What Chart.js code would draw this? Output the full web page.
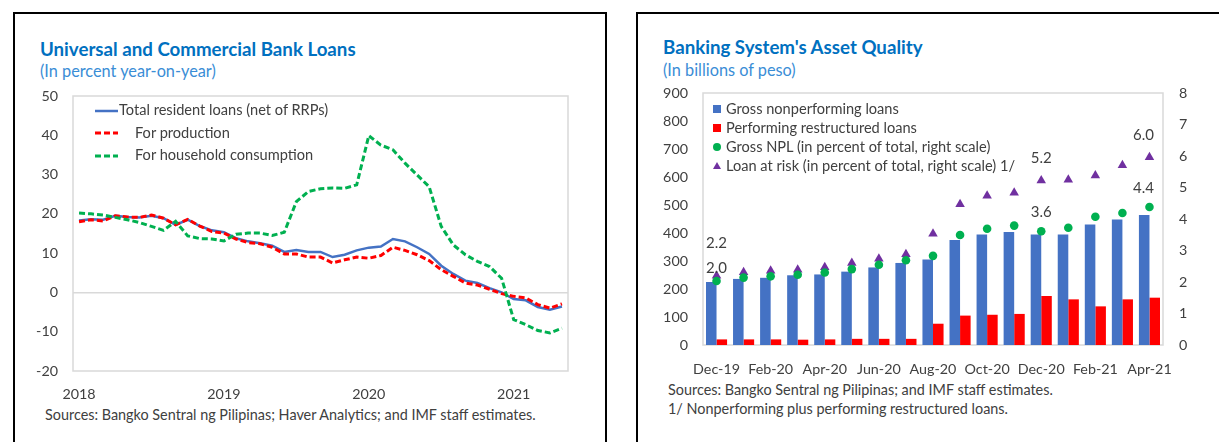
<!DOCTYPE html>
<html>
<head>
<meta charset="utf-8">
<script src="https://cdn.jsdelivr.net/npm/chart.js@4.4.1/dist/chart.umd.min.js"></script>
<style>
  body { margin: 0; width: 1219px; height: 442px; overflow: hidden; background: #fff; position: relative;
         font-family: Lato, "Open Sans", sans-serif; color: #404040; }
  .panel { position: absolute; top: 12px; height: 470px; border: 2px solid #000; box-sizing: border-box; }
  #p1 { left: 13px; width: 594px; }
  #p2 { left: 636px; width: 620px; }
  .t { position: absolute; white-space: nowrap; line-height: 1; }
  .title { font-weight: bold; color: #0070C0; font-size: 18.7px; }
  .sub { color: #3A8DD6; font-size: 16.3px; }
  .src { font-size: 14.4px; color: #404040; }
  .leg { position: absolute; white-space: nowrap; font-size: 14.6px; line-height: 18px; color: #404040; }
  .leg svg { position: absolute; }
  canvas { position: absolute; }
</style>
</head>
<body>
<div class="panel" id="p1"></div>
<div class="panel" id="p2"></div>

<div class="t title" style="left:40px; top:39.5px;">Universal and Commercial Bank Loans</div>
<div class="t sub" style="left:40px; top:62.5px;">(In percent year-on-year)</div>
<div class="t src" style="left:45px; top:407.5px;">Sources: Bangko Sentral ng Pilipinas; Haver Analytics; and IMF staff estimates.</div>

<div class="t title" style="left:663px; top:37.5px;">Banking System's Asset Quality</div>
<div class="t sub" style="left:663px; top:61.5px;">(In billions of peso)</div>
<div class="t src" style="left:668px; top:382.5px;">Sources: Bangko Sentral ng Pilipinas; and IMF staff estimates.</div>
<div class="t src" style="left:668px; top:401.5px;">1/ Nonperforming plus performing restructured loans.</div>

<div style="position:absolute; left:20px; top:85px; width:570px; height:317px;"><canvas id="loans" width="570" height="317" style="left:0;top:0;"></canvas></div>
<div style="position:absolute; left:640px; top:80px; width:575px; height:300px;"><canvas id="quality" width="575" height="300" style="left:0;top:0;"></canvas></div>

<!-- left legend -->
<div class="leg" style="left:95px; top:101px;">
  <svg width="24" height="18" style="left:0;top:0"><line x1="0" y1="10" x2="23" y2="10" stroke="#4472C4" stroke-width="2.5"/></svg>
  <span style="margin-left:24px">Total resident loans (net of RRPs)</span>
</div>
<div class="leg" style="left:95px; top:124px;">
  <svg width="24" height="18" style="left:0;top:0"><line x1="0" y1="9" x2="23" y2="9" stroke="#FF0000" stroke-width="3" stroke-dasharray="6,3"/></svg>
  <span style="margin-left:40px">For production</span>
</div>
<div class="leg" style="left:95px; top:146px;">
  <svg width="24" height="18" style="left:0;top:0"><line x1="0" y1="10" x2="23" y2="10" stroke="#00B050" stroke-width="3" stroke-dasharray="6,3"/></svg>
  <span style="margin-left:40px">For household consumption</span>
</div>

<!-- right legend -->
<div class="leg" style="left:712px; top:100px;">
  <svg width="10" height="18" style="left:0;top:0"><rect x="1" y="5" width="8" height="8" fill="#4472C4"/></svg>
  <span style="margin-left:14px">Gross nonperforming loans</span>
</div>
<div class="leg" style="left:712px; top:119px;">
  <svg width="10" height="18" style="left:0;top:0"><rect x="1" y="5" width="8" height="8" fill="#FF0000"/></svg>
  <span style="margin-left:14px">Performing restructured loans</span>
</div>
<div class="leg" style="left:712px; top:138px;">
  <svg width="10" height="18" style="left:0;top:0"><circle cx="5" cy="9" r="4" fill="#00B050"/></svg>
  <span style="margin-left:14px">Gross NPL (in percent of total, right scale)</span>
</div>
<div class="leg" style="left:712px; top:157px;">
  <svg width="10" height="18" style="left:0;top:0"><polygon points="5,5 9,12 1,12" fill="#7030A0"/></svg>
  <span style="margin-left:14px">Loan at risk (in percent of total, right scale) 1/</span>
</div>

<script>
// ---- left chart data (percent y/y, monthly Jan-2018 .. May-2021)
const months = ['2018-01','2018-02','2018-03','2018-04','2018-05','2018-06','2018-07','2018-08','2018-09','2018-10','2018-11','2018-12',
                '2019-01','2019-02','2019-03','2019-04','2019-05','2019-06','2019-07','2019-08','2019-09','2019-10','2019-11','2019-12',
                '2020-01','2020-02','2020-03','2020-04','2020-05','2020-06','2020-07','2020-08','2020-09','2020-10','2020-11','2020-12',
                '2021-01','2021-02','2021-03','2021-04','2021-05'];
const yearLabels = ['2018', '2019', '2020', '2021'];
const totalLoans = [18.3, 18.6, 18.5, 19.5, 19.2, 19.1, 19.5, 18.9, 17.2, 18.5, 16.9, 15.8,
                    15.3, 13.8, 13.0, 12.5, 11.9, 10.3, 10.8, 10.3, 10.3, 9.0, 9.6, 10.7,
                    11.4, 11.7, 13.6, 13.0, 11.5, 9.8, 6.8, 4.7, 3.0, 2.4, 1.1, 0.0,
                    -1.7, -2.0, -3.7, -4.4, -3.6];
const production = [18.0, 18.5, 18.2, 19.5, 19.2, 19.1, 19.7, 18.9, 17.2, 18.6, 16.9, 15.5,
                    15.1, 13.6, 12.7, 12.4, 11.5, 9.8, 9.8, 9.0, 9.0, 7.5, 8.3, 9.0,
                    8.7, 9.4, 11.5, 10.7, 9.6, 8.1, 5.8, 4.1, 2.4, 1.9, 0.8, -0.3,
                    -1.0, -1.4, -3.1, -4.0, -2.9];
const household = [20.2, 20.0, 19.7, 19.1, 18.5, 17.8, 16.8, 15.8, 18.1, 14.4, 13.7, 13.6,
                   13.1, 14.8, 15.1, 15.1, 14.5, 15.3, 23.1, 25.7, 26.4, 26.6, 26.5, 27.4,
                   39.9, 37.5, 36.3, 32.9, 29.9, 26.9, 16.8, 12.1, 9.6, 7.9, 6.6, 3.6,
                   -6.9, -8.2, -9.7, -10.3, -9.1];

// ---- right chart data
const qMonths = ['Dec-19','Jan-20','Feb-20','Mar-20','Apr-20','May-20','Jun-20','Jul-20','Aug-20',
                 'Sep-20','Oct-20','Nov-20','Dec-20','Jan-21','Feb-21','Mar-21','Apr-21'];
const grossNPL = [225, 236, 240, 249, 252, 262, 277, 293, 305, 375, 395, 404, 395, 395, 430, 448, 464];
const restructured = [20, 20, 20, 19, 20, 22, 22, 22, 76, 105, 108, 111, 175, 163, 138, 163, 169];
const nplRatio = [2.03, 2.14, 2.18, 2.23, 2.30, 2.41, 2.55, 2.69, 2.83, 3.49, 3.69, 3.79, 3.61, 3.72, 4.07, 4.19, 4.38];
const loanAtRisk = [2.20, 2.31, 2.36, 2.39, 2.47, 2.60, 2.74, 2.88, 3.53, 4.47, 4.74, 4.83, 5.22, 5.25, 5.38, 5.71, 5.96];
// which points get a value label: [dataset index, point index]
const labelled = [[3, 0], [2, 0], [3, 12], [2, 12], [3, 16], [2, 16]];

const tickFont = { family: 'Lato', size: 14.3 };
const tickColor = '#404040';

// light grey frame round the plot area
const plotBox = {
  id: 'plotBox',
  beforeDatasetsDraw(chart) {
    const { ctx, chartArea: a } = chart;
    ctx.save();
    ctx.strokeStyle = '#d9d9d9';
    ctx.lineWidth = 1.5;
    ctx.strokeRect(a.left, a.top, a.right - a.left, a.bottom - a.top);
    ctx.restore();
  }
};

// fixed axis sizes so the plot area lands where the original has it
function fixWidth(w) {
  return function (scale) { scale.width = w; scale.paddingTop = 0; scale.paddingBottom = 0; };
}
function fixHeight(h) {
  return function (scale) { scale.height = h; scale.paddingLeft = 0; scale.paddingRight = 0; };
}

new Chart(document.getElementById('loans'), {
  type: 'line',
  data: {
    labels: months,
    datasets: [
      { label: 'Total resident loans (net of RRPs)', data: totalLoans, borderColor: '#4472C4', borderWidth: 2.5, order: 3 },
      { label: 'For production', data: production, borderColor: '#FF0000', borderWidth: 3, borderDash: [6, 3], order: 2 },
      { label: 'For household consumption', data: household, borderColor: '#00B050', borderWidth: 3, borderDash: [6, 3], order: 1 },
    ],
  },
  options: {
    responsive: false,
    animation: false,
    layout: { padding: { top: 11, right: 22, left: 0, bottom: 0 } },
    elements: { point: { radius: 0 }, line: { tension: 0, fill: false } },
    plugins: { legend: { display: false }, tooltip: { enabled: false } },
    scales: {
      x: {
        offset: true,
        grid: { display: false },
        border: { display: false },
        ticks: {
          autoSkip: false, maxRotation: 0, padding: 7, font: tickFont, color: tickColor,
          callback: function (v, i) {
            const y = yearLabels.find(yr => months[i] === yr + '-01');
            return y === undefined ? null : y;
          }
        },
        afterFit: fixHeight(31)
      },
      y: {
        min: -20, max: 50,
        ticks: { stepSize: 10, padding: 15, font: tickFont, color: tickColor },
        grid: {
          drawTicks: false,
          color: ctx => ctx.tick && ctx.tick.value === 0 ? '#d9d9d9' : 'rgba(0,0,0,0)',
          lineWidth: 1.5
        },
        border: { display: false },
        afterFit: fixWidth(53)
      }
    }
  },
  plugins: [plotBox]
});

const pointLabels = {
  id: 'pointLabels',
  afterDatasetsDraw(chart) {
    const { ctx } = chart;
    ctx.save();
    ctx.font = '15px Lato';
    ctx.fillStyle = '#404040';
    ctx.textAlign = 'center';
    ctx.textBaseline = 'middle';
    labelled.forEach(([d, i]) => {
      const pt = chart.getDatasetMeta(d).data[i];
      const val = chart.data.datasets[d].data[i];
      let dy = d === 3 ? -22 : -19;
      let dx = i === 16 ? -6 : 0;
      if (i === 0) dy = d === 3 ? -33 : -13;
      ctx.fillText(val.toFixed(1), pt.x + dx, pt.y + dy);
    });
    ctx.restore();
  }
};

new Chart(document.getElementById('quality'), {
  type: 'bar',
  data: {
    labels: qMonths,
    datasets: [
      { label: 'Gross nonperforming loans', data: grossNPL, backgroundColor: '#4472C4', yAxisID: 'y', order: 2 },
      { label: 'Performing restructured loans', data: restructured, backgroundColor: '#FF0000', yAxisID: 'y', order: 2 },
      { type: 'line', label: 'Gross NPL (in percent of total, right scale)', data: nplRatio, yAxisID: 'y2',
        showLine: false, pointStyle: 'circle', pointRadius: 4.3, backgroundColor: '#00B050', borderColor: '#00B050', borderWidth: 0, order: 0 },
      { type: 'line', label: 'Loan at risk (in percent of total, right scale) 1/', data: loanAtRisk, yAxisID: 'y2',
        showLine: false, pointStyle: 'triangle', pointRadius: 5.5, backgroundColor: '#7030A0', borderColor: '#7030A0', borderWidth: 0, order: 1 },
    ],
  },
  options: {
    responsive: false,
    animation: false,
    layout: { padding: { top: 13, right: 0, left: 0, bottom: 0 } },
    datasets: { bar: { categoryPercentage: 0.78, barPercentage: 1.0 } },
    plugins: { legend: { display: false }, tooltip: { enabled: false } },
    scales: {
      x: {
        grid: { display: false },
        border: { display: false },
        ticks: {
          autoSkip: false, maxRotation: 0, padding: 8, font: tickFont, color: tickColor,
          callback: function (v, i) { return i % 2 === 0 ? qMonths[i] : null; }
        },
        afterFit: fixHeight(35)
      },
      y: {
        position: 'left', min: 0, max: 900,
        ticks: { stepSize: 100, padding: 15, font: tickFont, color: tickColor },
        grid: { display: false, drawTicks: false },
        border: { display: false },
        afterFit: fixWidth(63)
      },
      y2: {
        position: 'right', min: 0, max: 8,
        ticks: { stepSize: 1, padding: 16, font: tickFont, color: tickColor },
        grid: { display: false, drawTicks: false },
        border: { display: false },
        afterFit: fixWidth(52)
      }
    }
  },
  plugins: [plotBox, pointLabels]
});
</script>
</body>
</html>
